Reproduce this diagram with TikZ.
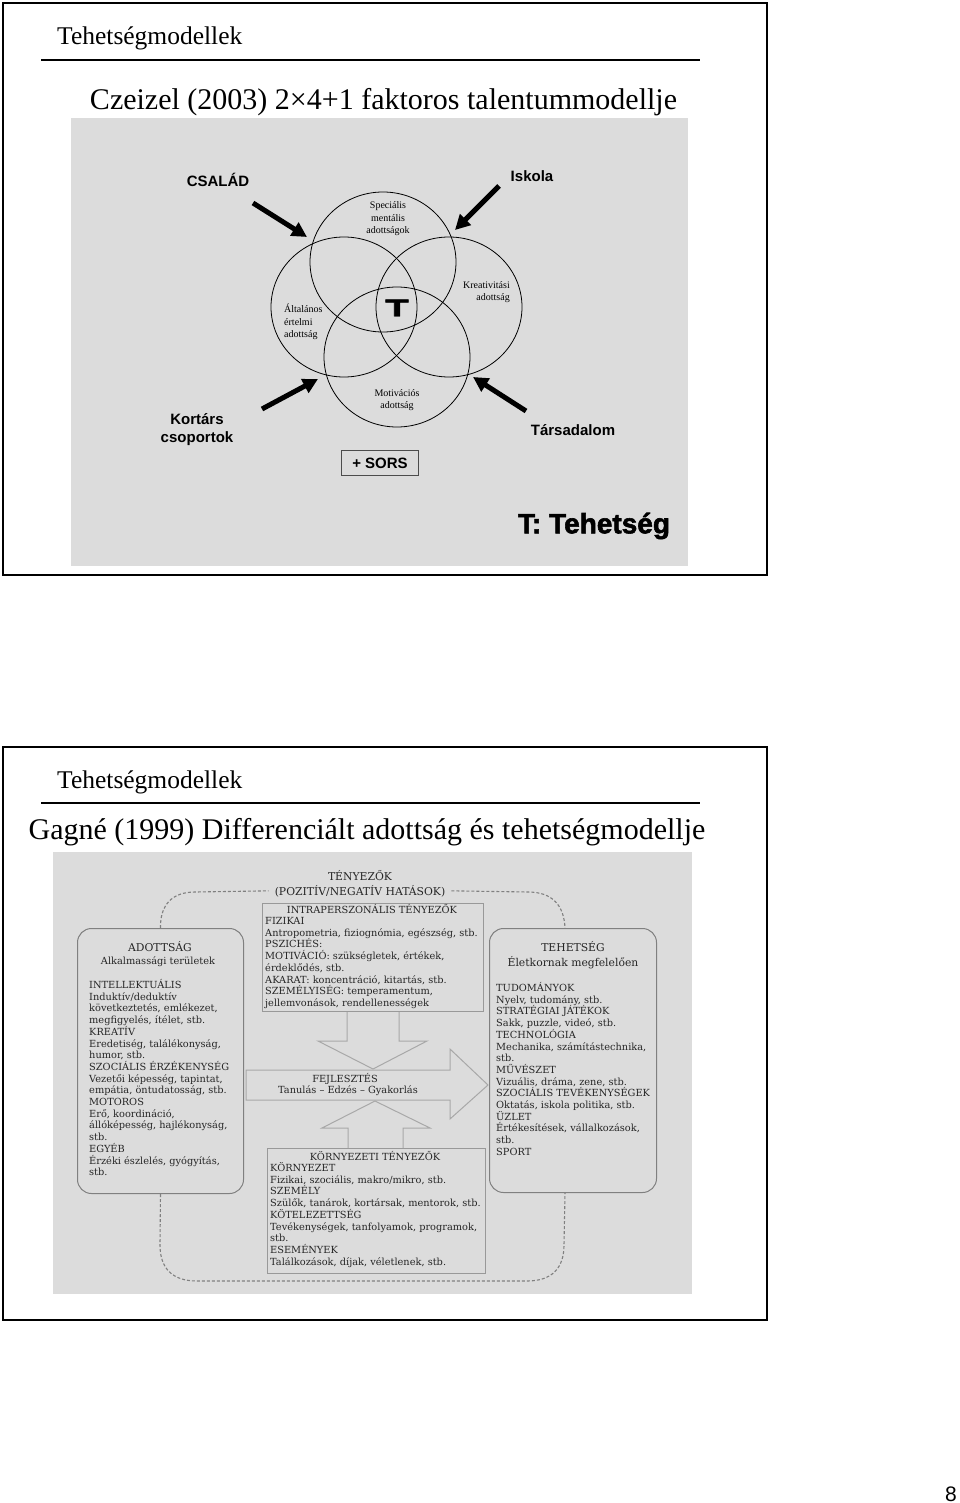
\documentclass[tikz,border=0pt]{standalone}
\usepackage{fontspec}
\usepackage{graphicx}
\setmainfont{Liberation Serif}
\newfontfamily\arialf{Liberation Sans}
\newfontfamily\heavyf[FakeBold=2]{Liberation Sans Bold}
\newfontfamily\scanf{DejaVu Serif}
\usetikzlibrary{arrows.meta,shapes.geometric}
\definecolor{panelgray}{HTML}{DCDCDC}
\definecolor{scantext}{HTML}{262626}
\definecolor{scanline}{HTML}{808080}
\definecolor{arrline}{HTML}{A8A8A8}
\begin{document}
\begin{tikzpicture}[x=1pt,y=-1pt,
  hdr/.style={font=\fontsize{25.5}{30}\selectfont, anchor=base west, inner sep=0},
  ttl/.style={font=\fontsize{30}{34}\selectfont, anchor=base, inner sep=0},
  frameline/.style={draw=black, line width=2.5pt},
  hrule/.style={draw=black, line width=1.3pt},
  panel/.style={fill=panelgray, draw=none},
  venn/.style={draw=black, line width=0.8pt, ellipse, minimum width=146pt, minimum height=140pt, inner sep=0},
  small/.style={font=\fontsize{10}{12.5}\selectfont, inner sep=0},
  lbl/.style={font=\arialf\bfseries\fontsize{15}{18}\selectfont, inner sep=0, align=center},
  bigarrow/.style={line width=5pt, -{Triangle[length=15pt,width=15pt]}},
  scan/.style={font=\scanf\fontsize{9.8}{11.7}\selectfont, text=scantext, inner sep=0},
  scanhead/.style={font=\scanf\fontsize{10.8}{13}\selectfont, text=scantext, inner sep=0},
  sbox/.style={draw=scanline, line width=1pt, inner sep=0, anchor=north west},
  dashline/.style={draw=scanline, line width=1.1pt, dash pattern=on 3pt off 2pt},
  blockarrow/.style={draw=arrline, line width=1pt}
]
\useasboundingbox (0,0) rectangle (960,1503);
\fill[white] (0,0) rectangle (960,1503);

% ---------------- slide 1 ----------------
\draw[frameline] (3,3) rectangle (767,575);
\node[hdr] (h1) at (57,45) {Tehetségmodellek};
\draw[hrule] (41,60) -- (700,60);
\node[ttl] (t1) at (383.5,110) {Czeizel (2003) 2×4+1 faktoros talentummodellje};
\fill[panel] (71,118) rectangle (688,566);

\node[venn] (ctop) at (383,262) {};
\node[venn] (cleft) at (344,307) {};
\node[venn] (cright) at (449,307) {};
\node[venn] (cbot) at (397,357) {};

\node[small, align=center] (spec) at (388,219) {Speciális\\mentális\\adottságok};
\node[small, align=left, anchor=west] (alt) at (284,322) {Általános\\értelmi\\adottság};
\node[small, align=right, anchor=east] (kre) at (510,292) {Kreativitási\\adottság};
\node[small, align=center] (mot) at (397,400) {Motivációs\\adottság};
\node[font=\heavyf\fontsize{24}{24}\selectfont, inner sep=0] (tal) at (397,308) {\scalebox{1.6}[1]{T}};

\node[lbl] (csa) at (218,180) {CSALÁD};
\node[lbl] (isk) at (532,176) {Iskola};
\node[lbl] (kor) at (197,430) {Kortárs\\csoportok};
\node[lbl] (tar) at (573,430) {Társadalom};
\node[lbl, draw=black!70, line width=1pt, minimum width=77pt, minimum height=25pt] (sors) at (380,463) {+ SORS};
\node[font=\heavyf\fontsize{28}{32}\selectfont, inner sep=0] (tt) at (594,526) {T: Tehetség};

\coordinate (a1s) at (253,203); \coordinate (a1e) at (307,237);
\coordinate (a2s) at (499,186); \coordinate (a2e) at (455,230);
\coordinate (a3s) at (262,409); \coordinate (a3e) at (318,379);
\coordinate (a4s) at (526,411); \coordinate (a4e) at (473,377);
\draw[bigarrow] (a1s) -- (a1e);
\draw[bigarrow] (a2s) -- (a2e);
\draw[bigarrow] (a3s) -- (a3e);
\draw[bigarrow] (a4s) -- (a4e);

% ---------------- slide 2 ----------------
\draw[frameline] (3,747) rectangle (767,1320);
\node[hdr] (h2) at (57,788) {Tehetségmodellek};
\draw[hrule] (41,803) -- (700,803);
\node[ttl] (t2) at (367,839) {Gagné (1999) Differenciált adottság és tehetségmodellje};
\fill[panel] (53,852) rectangle (692,1294);

% boxes
\node[sbox, rounded corners=14pt, minimum width=166pt, minimum height=265pt] (adott) at (77,928) {};
\node[sbox, rounded corners=14pt, minimum width=167pt, minimum height=264pt] (tehet) at (489,928) {};
\node[sbox, draw=scanline!80, minimum width=221pt, minimum height=108pt] (intra) at (262,903) {};
\node[sbox, draw=scanline!80, minimum width=218pt, minimum height=125pt] (korny) at (267,1148) {};

% top title
\node[scanhead, anchor=base] (ten1) at (360,880) {TÉNYEZŐK};
\node[scanhead, anchor=base, inner xsep=6pt] (ten2) at (360,895) {(POZITÍV/NEGATÍV HATÁSOK)};

% dashed connectors
\draw[dashline] (adott.north) .. controls (160,905) and (172,892) .. (195,892) -- (ten2.west);
\draw[dashline] (ten2.east) -- (528,892) .. controls (552,892) and (564,905) .. ([xshift=-8pt]tehet.north);
\draw[dashline] (adott.south) -- (160,1245) .. controls (160,1268) and (172,1281) .. (197,1281) -- (527,1281) .. controls (552,1281) and (564,1268) .. (564,1245) -- ([xshift=-8pt]tehet.south);

% block arrows
\draw[blockarrow, fill=panelgray] (246,1070) -- (450,1070) -- (450,1049) -- (488,1085) -- (450,1119) -- (450,1100) -- (246,1100) -- cycle;
\draw[blockarrow] ([xshift=85pt]intra.south west) -- (347,1041) -- (318,1041) -- (373,1069) -- (427,1041) -- (399,1041) -- ([xshift=137pt]intra.south west);
\draw[blockarrow] ([xshift=81pt]korny.north west) -- (348,1128) -- (322,1128) -- (375,1101) -- (430,1128) -- (403,1128) -- ([xshift=136pt]korny.north west);
\node[scan, anchor=base] (fej1) at (345,1082) {FEJLESZTÉS};
\node[scan, anchor=base] (fej2) at (348,1093) {Tanulás – Edzés – Gyakorlás};

% left box text
\node[scanhead, anchor=base] (adh1) at (160,951) {ADOTTSÁG};
\node[scan, anchor=base] (adh2) at (158,964) {Alkalmassági területek};
\foreach \t [count=\i from 0] in {INTELLEKTUÁLIS,Induktív/deduktív,{következtetés, emlékezet,},{megfigyelés, ítélet, stb.},KREATÍV,{Eredetiség, találékonyság,},{humor, stb.},SZOCIÁLIS ÉRZÉKENYSÉG,{Vezetői képesség, tapintat,},{empátia, öntudatosság, stb.},MOTOROS,{Erő, koordináció,},{állóképesség, hajlékonyság,},stb.,EGYÉB,{Érzéki észlelés, gyógyítás,},stb.}
  \node[scan, anchor=base west] (ad\i) at (89,{988.5+11.7*\i}) {\t};

% right box text
\node[scanhead, anchor=base] (teh1) at (573,951) {TEHETSÉG};
\node[scanhead, anchor=base] (teh2) at (573,966) {Életkornak megfelelően};
\foreach \t [count=\i from 0] in {TUDOMÁNYOK,{Nyelv, tudomány, stb.},STRATÉGIAI JÁTÉKOK,{Sakk, puzzle, videó, stb.},TECHNOLÓGIA,{Mechanika, számítástechnika,},stb.,MŰVÉSZET,{Vizuális, dráma, zene, stb.},SZOCIÁLIS TEVÉKENYSÉGEK,{Oktatás, iskola politika, stb.},ÜZLET,{Értékesítések, vállalkozások,},stb.,SPORT}
  \node[scan, anchor=base west] (te\i) at (496,{991.5+11.7*\i}) {\t};

% intrapersonal box text
\node[scan, anchor=base] (inh) at (372,913) {INTRAPERSZONÁLIS TÉNYEZŐK};
\foreach \t [count=\i from 0] in {FIZIKAI,{Antropometria, fiziognómia, egészség, stb.},PSZICHÉS:,{MOTIVÁCIÓ: szükségletek, értékek,},{érdeklődés, stb.},{AKARAT: koncentráció, kitartás, stb.},{SZEMÉLYISÉG: temperamentum,},{jellemvonások, rendellenességek}}
  \node[scan, anchor=base west] (in\i) at (265,{924.5+11.7*\i}) {\t};

% environmental box text
\node[scan, anchor=base] (koh) at (375,1160) {KÖRNYEZETI TÉNYEZŐK};
\foreach \t [count=\i from 0] in {KÖRNYEZET,{Fizikai, szociális, makro/mikro, stb.},SZEMÉLY,{Szülők, tanárok, kortársak, mentorok, stb.},KÖTELEZETTSÉG,{Tevékenységek, tanfolyamok, programok,},stb.,ESEMÉNYEK,{Találkozások, díjak, véletlenek, stb.}}
  \node[scan, anchor=base west] (ko\i) at (270,{1171.5+11.7*\i}) {\t};

% page number
\node[font=\arialf\fontsize{21}{24}\selectfont, anchor=base west, inner sep=0] (pg) at (945,1501) {8};
\end{tikzpicture}
\end{document}
